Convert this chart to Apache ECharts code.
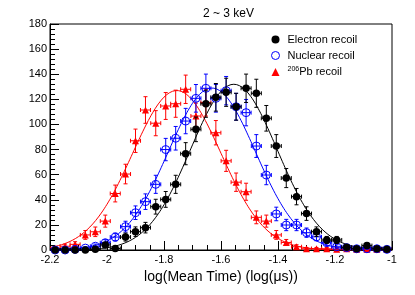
<!DOCTYPE html>
<html><head><meta charset="utf-8">
<script src="https://cdn.jsdelivr.net/npm/echarts@6/dist/echarts.min.js"></script>
<style>html,body{margin:0;padding:0;background:#fff}#c{width:415px;height:295px}</style>
</head><body><div id="c"></div>
<script>
// Bin centres (log(Mean Time))
const binCenters = [-2.182,-2.147,-2.112,-2.076,-2.041,-2.006,-1.971,-1.935,-1.900,-1.865,-1.829,-1.794,-1.759,-1.724,-1.688,-1.653,-1.618,-1.582,-1.547,-1.512,-1.476,-1.441,-1.406,-1.371,-1.335,-1.300,-1.265,-1.229,-1.194,-1.159,-1.124,-1.088,-1.053,-1.018];
const binHalfWidth = 0.0176;

const electronCounts = [0,0,0,0,0.5,4,1.2,10.3,14.6,17.8,34.5,40.3,52.3,76.7,96.1,116.5,121.6,125.6,114.1,128.8,124.8,104.9,82.8,57.3,42.5,29,14.6,8,8,2.2,1,3.5,1,0.5];
const electronErrors = [0,0,0,0,0.7,2,1.1,3.2,3.8,4.2,5.9,6.3,7.2,8.8,9.8,10.8,11,11.2,10.7,11.3,11.2,10.2,9.1,7.6,6.5,5.4,3.8,2.8,2.8,1.5,1,1.9,1,0.7];

const nuclearCounts = [0,0,0.5,1.5,3,5.8,10.3,18.6,29.7,38.5,52.3,80,89,102.7,120.8,128.8,120.8,126.9,114.1,109.4,82.8,59.7,28.7,19.9,19.9,13.8,10.5,5.8,2.6,1.9,1,1,1,0.5];
const nuclearErrors = [0,0,0.7,1.2,1.7,2.4,3.2,4.3,5.4,6.2,7.2,8.9,9.4,10.1,11,11.3,11,11.3,10.7,10.5,9.1,7.7,5.4,4.5,4.5,3.7,3.2,2.4,1.6,1.4,1,1,1,0.7];

const pbCounts = [1,3,4.5,12,14.5,23,45,60.5,87,111.5,101,114.7,116.5,128,106.7,117.5,93.4,71,54,46.4,26,23,12,6,2.6,1,1,1,0.5,1,0.5,0.5,0.5,0.5];
const pbErrors = [1,1.7,2.1,3.5,3.8,4.8,6.7,7.8,9.3,10.6,10,10.7,10.8,11.3,10.3,10.8,9.7,8.4,7.3,6.8,5.1,4.8,3.5,2.4,1.6,1,1,1,0.7,1,0.7,0.7,0.7,0.7];

// Gaussian fit parameters: [amplitude, mean, sigma]
const fitElectron = [132, -1.555, 0.152];
const fitNuclear = [129, -1.632, 0.153];
const fitPb = [127, -1.755, 0.155];

const xTicks = [-2.2,-2,-1.8,-1.6,-1.4,-1.2,-1];
const yTicks = [0,20,40,60,80,100,120,140,160,180];
const seriesNames = ['Electron recoil','Nuclear recoil','206Pb recoil'];

function fitCurve(p) {
  const pts = [];
  const n = 240;
  for (let k = 0; k <= n; k++) {
    const x = xTicks[0] + (xTicks[xTicks.length-1] - xTicks[0]) * k / n;
    pts.push([x, p[0] * Math.exp(-0.5 * Math.pow((x - p[1]) / p[2], 2))]);
  }
  return pts;
}

function errorBars(counts, errs, color, z) {
  return {
    type: 'custom', silent: true, z: z, clip: true,
    data: binCenters.map((x, i) => [x, counts[i], errs[i]]),
    renderItem: function (params, api) {
      const x = api.value(0), y = api.value(1), e = api.value(2);
      const c = api.coord([x, y]);
      const t = api.coord([x, y + e]);
      const b = api.coord([x, Math.max(y - e, 0)]);
      const l = api.coord([x - binHalfWidth, y]);
      const r = api.coord([x + binHalfWidth, y]);
      const cap = 2;
      const st = {stroke: color, lineWidth: 1};
      const ch = [
        {type: 'line', shape: {x1: l[0], y1: c[1], x2: r[0], y2: c[1]}, style: st},
        {type: 'line', shape: {x1: l[0], y1: c[1]-cap, x2: l[0], y2: c[1]+cap}, style: st},
        {type: 'line', shape: {x1: r[0], y1: c[1]-cap, x2: r[0], y2: c[1]+cap}, style: st}
      ];
      if (e > 0) {
        ch.push({type: 'line', shape: {x1: c[0], y1: t[1], x2: c[0], y2: b[1]}, style: st});
        ch.push({type: 'line', shape: {x1: c[0]-cap, y1: t[1], x2: c[0]+cap, y2: t[1]}, style: st});
        ch.push({type: 'line', shape: {x1: c[0]-cap, y1: b[1], x2: c[0]+cap, y2: b[1]}, style: st});
      }
      return {type: 'group', children: ch};
    }
  };
}

const chart = echarts.init(document.getElementById('c'), null, {renderer: 'canvas'});
const font = 'Liberation Sans, Arial, Helvetica, sans-serif';
chart.setOption({
  animation: false,
  backgroundColor: '#fff',
  textStyle: {fontFamily: font},
  title: {text: '2 ~ 3 keV', left: 198, top: 3,
    textStyle: {fontSize: 12, fontWeight: 'normal', color: '#000', fontFamily: font}},
  grid: {left: 50, right: 23, top: 24, bottom: 45, show: true, borderColor: '#000', borderWidth: 1, containLabel: false, outerBoundsMode: 'none'},
  legend: {
    orient: 'vertical', left: 266, top: 29, itemWidth: 8, itemHeight: 8, itemGap: 5,
    selectedMode: false,
    data: [
      {name: seriesNames[0], icon: 'circle', itemStyle: {color: '#000'}},
      {name: seriesNames[1], icon: 'circle', itemStyle: {color: 'rgba(0,0,0,0)', borderColor: '#0000ff', borderWidth: 1}},
      {name: seriesNames[2], icon: 'triangle', itemStyle: {color: '#ff0000'}}
    ],
    formatter: function (n) { return n === seriesNames[2] ? '{sup|206}{t2|Pb recoil}' : '{t|' + n + '}'; },
    textStyle: {color: '#000', fontSize: 11, fontFamily: font,
      rich: {
        t: {fontSize: 11, fontFamily: font, color: '#000', padding: [0,0,0,3]},
        t2: {fontSize: 11, fontFamily: font, color: '#000'},
        sup: {fontSize: 7, verticalAlign: 'top', fontFamily: font, color: '#000', padding: [0,0,5,3]}}}
  },
  xAxis: {
    type: 'value', min: xTicks[0], max: xTicks[xTicks.length-1], interval: 0.2,
    name: 'log(Mean Time) (log(\u03bcs))', nameLocation: 'middle', nameGap: 17,
    nameTextStyle: {fontSize: 14, color: '#000', fontFamily: font},
    axisLine: {onZero: false, lineStyle: {color: '#000', width: 1}},
    axisTick: {inside: true, length: 9, lineStyle: {color: '#000'}},
    minorTick: {show: true, splitNumber: 4, length: 5, lineStyle: {color: '#000'}},
    axisLabel: {fontSize: 11, color: '#000', margin: 4, fontFamily: font},
    splitLine: {show: false}
  },
  yAxis: {
    type: 'value', min: yTicks[0], max: yTicks[yTicks.length-1], interval: 20,
    axisLine: {show: true, lineStyle: {color: '#000', width: 1}},
    axisTick: {show: true, inside: true, length: 9, lineStyle: {color: '#000'}},
    minorTick: {show: true, splitNumber: 5, length: 5, lineStyle: {color: '#000'}},
    axisLabel: {fontSize: 11, color: '#000', margin: 3, fontFamily: font},
    splitLine: {show: false}
  },
  series: [
    {type: 'line', data: fitCurve(fitPb), showSymbol: false, silent: true, lineStyle: {color: '#ff0000', width: 1}, itemStyle: {color: '#ff0000'}, z: 2},
    {type: 'line', data: fitCurve(fitNuclear), showSymbol: false, silent: true, lineStyle: {color: '#0000ff', width: 1}, itemStyle: {color: '#0000ff'}, z: 2},
    {type: 'line', data: fitCurve(fitElectron), showSymbol: false, silent: true, lineStyle: {color: '#000', width: 1}, itemStyle: {color: '#000'}, z: 2},
    errorBars(pbCounts, pbErrors, '#ff0000', 3),
    {name: seriesNames[2], type: 'scatter', symbol: 'triangle', symbolSize: 7, z: 4,
      data: binCenters.map((x, i) => [x, pbCounts[i]]), itemStyle: {color: '#ff0000', opacity: 1}},
    errorBars(nuclearCounts, nuclearErrors, '#0000ff', 5),
    {name: seriesNames[1], type: 'scatter', symbol: 'circle', symbolSize: 8, z: 6,
      data: binCenters.map((x, i) => [x, nuclearCounts[i]]), itemStyle: {color: 'rgba(0,0,0,0)', borderColor: '#0000ff', borderWidth: 1, opacity: 1}},
    errorBars(electronCounts, electronErrors, '#000', 7),
    {name: seriesNames[0], type: 'scatter', symbol: 'circle', symbolSize: 7.5, z: 8,
      data: binCenters.map((x, i) => [x, electronCounts[i]]), itemStyle: {color: '#000', opacity: 1}}
  ]
});
</script></body></html>
